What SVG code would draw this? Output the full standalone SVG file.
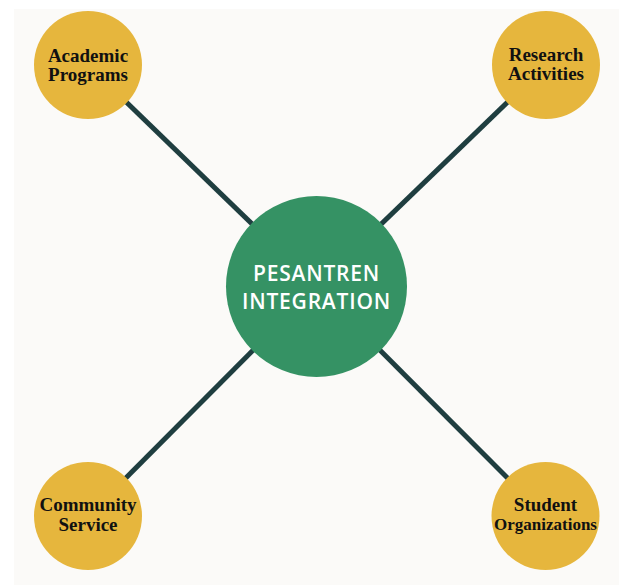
<svg xmlns="http://www.w3.org/2000/svg" width="619" height="585" viewBox="0 0 619 585">
  <style>
    .link { stroke: #1f3e40; stroke-width: 5; stroke-linecap: butt; }
    .sat { fill: #e6b63d; }
    .hub { fill: #359264; }
    .sat-label { font-family: "Liberation Serif", "DejaVu Serif", serif; font-weight: bold; font-size: 19px; fill: #111111; text-anchor: middle; }
    .hub-label { font-family: "Open Sans", "Liberation Sans", sans-serif; font-weight: 600; font-size: 21px; fill: #ffffff; text-anchor: middle; letter-spacing: 0.8px; }
  </style>
  <rect x="0" y="0" width="619" height="585" fill="#ffffff"/>
  <rect x="14" y="9" width="605" height="576" fill="#fbfaf8"/>

  <g id="connectors">
    <line class="link" x1="316.5" y1="286.5" x2="88" y2="65"/>
    <line class="link" x1="316.5" y1="286.5" x2="546" y2="65"/>
    <line class="link" x1="316.5" y1="286.5" x2="88" y2="516"/>
    <line class="link" x1="316.5" y1="286.5" x2="545.5" y2="516"/>
  </g>

  <g id="hub">
    <circle class="hub" cx="316.5" cy="286.5" r="90.5"/>
    <text class="hub-label" x="316.5" y="281">PESANTREN</text>
    <text class="hub-label" x="316.5" y="309">INTEGRATION</text>
  </g>

  <g id="academic-programs">
    <circle class="sat" cx="88" cy="65" r="54"/>
    <text class="sat-label" x="88" y="62">Academic</text>
    <text class="sat-label" x="88" y="81">Programs</text>
  </g>

  <g id="research-activities">
    <circle class="sat" cx="546" cy="65" r="54"/>
    <text class="sat-label" x="546" y="61">Research</text>
    <text class="sat-label" x="546" y="80">Activities</text>
  </g>

  <g id="community-service">
    <circle class="sat" cx="88" cy="516" r="54"/>
    <text class="sat-label" x="88" y="511">Community</text>
    <text class="sat-label" x="88" y="531">Service</text>
  </g>

  <g id="student-organizations">
    <circle class="sat" cx="545.5" cy="516" r="54"/>
    <text class="sat-label" x="545.5" y="511">Student</text>
    <text class="sat-label" x="545.5" y="530" style="font-size:17px">Organizations</text>
  </g>
</svg>
